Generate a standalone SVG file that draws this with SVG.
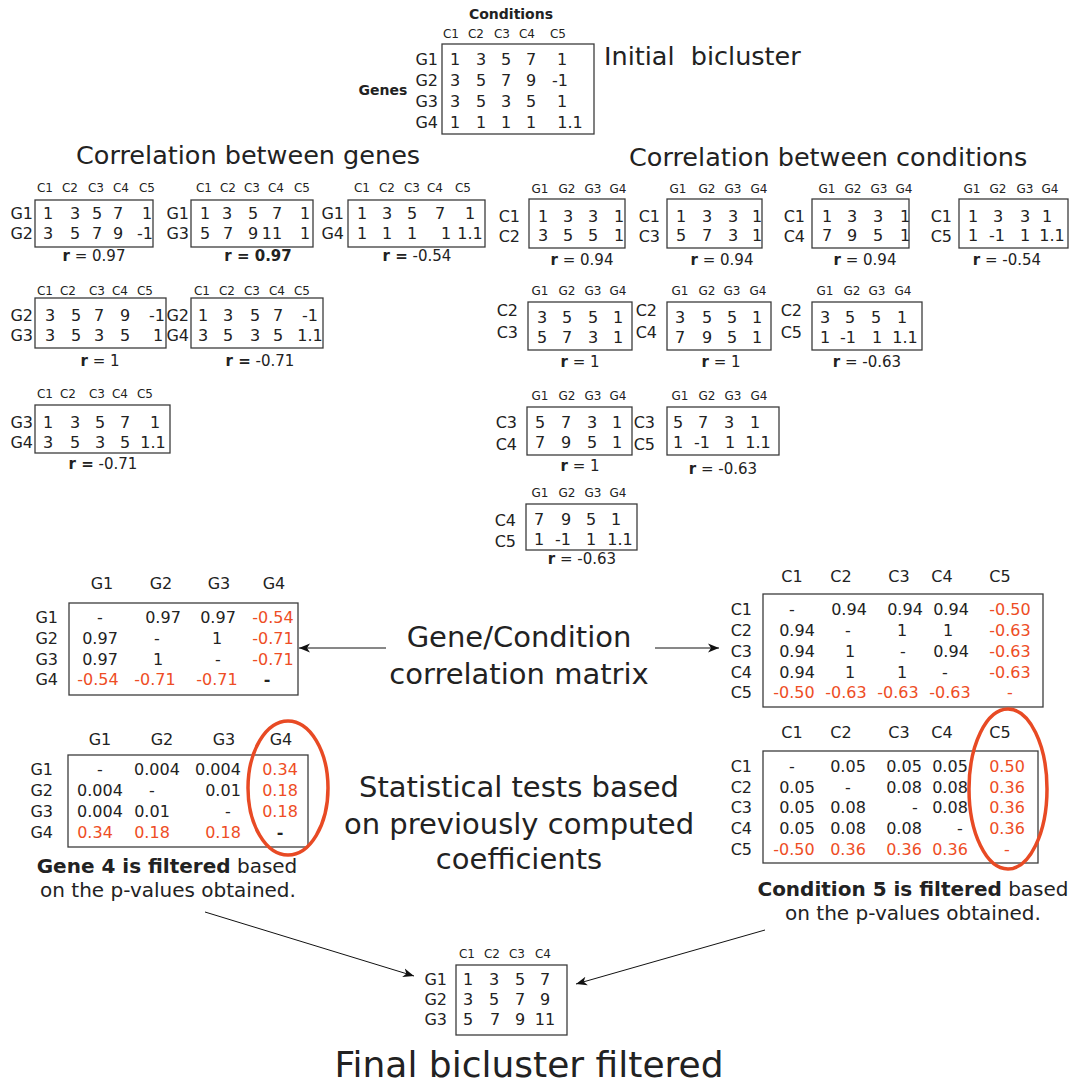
<svg xmlns="http://www.w3.org/2000/svg" width="1074" height="1086" viewBox="0 0 1074 1086">
<style>
text{font-family:"DejaVu Sans","Bitstream Vera Sans",sans-serif;fill:#222}
.h{font-size:12px;text-anchor:middle}
.v{font-size:16px;text-anchor:middle}
.l{font-size:16px;text-anchor:end}
.r{font-size:15px;text-anchor:middle}
.b{font-weight:bold}
.red{fill:#ee4d25}
.box{fill:none;stroke:#3c3c3c;stroke-width:1.3}
.big{font-size:25.5px}
.mid{font-size:29px;text-anchor:middle}
.note{font-size:20px;text-anchor:middle}
.ell{fill:none;stroke:#e84a24;stroke-width:3.5}
.conn{stroke:#111;stroke-width:1;fill:none;marker-end:url(#ah)}
</style>
<defs>
<marker id="ah" viewBox="-11 -5 12 10" refX="0" refY="0" markerWidth="12" markerHeight="10" markerUnits="userSpaceOnUse" orient="auto">
<path d="M0,0 L-11,-4.5 L-8,0 L-11,4.5 Z" fill="#111"/>
</marker>
</defs>
<rect width="1074" height="1086" fill="#fff"/>

<g id="initial">
<text x="511" y="19" class="b" style="font-size:14px;text-anchor:middle">Conditions</text>
<text x="383" y="95" class="b" style="font-size:14px;text-anchor:middle">Genes</text>
<text y="38" class="h"><tspan x="451">C1</tspan><tspan x="476">C2</tspan><tspan x="502">C3</tspan><tspan x="527">C4</tspan><tspan x="558">C5</tspan></text>
<rect class="box" x="442" y="44" width="152" height="90"/>
<text class="l" x="438" y="65">G1</text><text class="l" x="438" y="86">G2</text><text class="l" x="438" y="107">G3</text><text class="l" x="438" y="128">G4</text>
<text class="v" y="65"><tspan x="455">1</tspan><tspan x="481">3</tspan><tspan x="506">5</tspan><tspan x="531">7</tspan><tspan x="562">1</tspan></text>
<text class="v" y="86"><tspan x="455">3</tspan><tspan x="481">5</tspan><tspan x="506">7</tspan><tspan x="531">9</tspan><tspan x="560">-1</tspan></text>
<text class="v" y="107"><tspan x="455">3</tspan><tspan x="481">5</tspan><tspan x="506">3</tspan><tspan x="531">5</tspan><tspan x="562">1</tspan></text>
<text class="v" y="128"><tspan x="455">1</tspan><tspan x="481">1</tspan><tspan x="506">1</tspan><tspan x="531">1</tspan><tspan x="570">1.1</tspan></text>
<text x="604" y="65" class="big" xml:space="preserve">Initial  bicluster</text>
</g>

<g id="titles">
<text x="76" y="164" class="big">Correlation between genes</text>
<text x="629" y="166" class="big">Correlation between conditions</text>
</g>

<g id="g12">
<text y="192" class="h"><tspan x="45">C1</tspan><tspan x="70">C2</tspan><tspan x="96">C3</tspan><tspan x="121">C4</tspan><tspan x="147">C5</tspan></text>
<rect class="box" x="35" y="200" width="118" height="47"/>
<text class="l" x="33" y="219">G1</text><text class="l" x="33" y="239">G2</text>
<text class="v" y="219"><tspan x="48">1</tspan><tspan x="75">3</tspan><tspan x="97">5</tspan><tspan x="118">7</tspan><tspan x="147">1</tspan></text>
<text class="v" y="239"><tspan x="48">3</tspan><tspan x="75">5</tspan><tspan x="97">7</tspan><tspan x="118">9</tspan><tspan x="145">-1</tspan></text>
<text class="r" x="94" y="261"><tspan class="b">r</tspan> = 0.97</text>
</g>
<g id="g13">
<text y="192" class="h"><tspan x="204">C1</tspan><tspan x="228">C2</tspan><tspan x="252">C3</tspan><tspan x="276">C4</tspan><tspan x="302">C5</tspan></text>
<rect class="box" x="191" y="200" width="122" height="47"/>
<text class="l" x="189" y="219">G1</text><text class="l" x="189" y="239">G3</text>
<text class="v" y="219"><tspan x="205">1</tspan><tspan x="227">3</tspan><tspan x="253">5</tspan><tspan x="277">7</tspan><tspan x="305">1</tspan></text>
<text class="v" y="239"><tspan x="205">5</tspan><tspan x="228">7</tspan><tspan x="253">9</tspan><tspan x="272">11</tspan><tspan x="305">1</tspan></text>
<text class="r b" x="258" y="261">r = 0.97</text>
</g>
<g id="g14">
<text y="192" class="h"><tspan x="362">C1</tspan><tspan x="387">C2</tspan><tspan x="412">C3</tspan><tspan x="435">C4</tspan><tspan x="463">C5</tspan></text>
<rect class="box" x="348" y="200" width="137" height="47"/>
<text class="l" x="344" y="219">G1</text><text class="l" x="344" y="239">G4</text>
<text class="v" y="219"><tspan x="362">1</tspan><tspan x="387">3</tspan><tspan x="412">5</tspan><tspan x="440">7</tspan><tspan x="470">1</tspan></text>
<text class="v" y="239"><tspan x="362">1</tspan><tspan x="387">1</tspan><tspan x="412">1</tspan><tspan x="446">1</tspan><tspan x="470">1.1</tspan></text>
<text class="r" x="417" y="261"><tspan class="b">r =</tspan> -0.54</text>
</g>
<g id="g23">
<text y="295" class="h"><tspan x="45">C1</tspan><tspan x="68">C2</tspan><tspan x="97">C3</tspan><tspan x="120">C4</tspan><tspan x="145">C5</tspan></text>
<rect class="box" x="35" y="298" width="131" height="50"/>
<text class="l" x="33" y="321">G2</text><text class="l" x="33" y="341">G3</text>
<text class="v" y="321"><tspan x="50">3</tspan><tspan x="76">5</tspan><tspan x="99">7</tspan><tspan x="125">9</tspan><tspan x="157">-1</tspan></text>
<text class="v" y="341"><tspan x="50">3</tspan><tspan x="76">5</tspan><tspan x="99">3</tspan><tspan x="125">5</tspan><tspan x="158">1</tspan></text>
<text class="r" x="100" y="366"><tspan class="b">r</tspan> = 1</text>
</g>
<g id="g24">
<text y="295" class="h"><tspan x="202">C1</tspan><tspan x="227">C2</tspan><tspan x="252">C3</tspan><tspan x="277">C4</tspan><tspan x="302">C5</tspan></text>
<rect class="box" x="191" y="298" width="132" height="50"/>
<text class="l" x="189" y="321">G2</text><text class="l" x="189" y="341">G4</text>
<text class="v" y="321"><tspan x="203">1</tspan><tspan x="228">3</tspan><tspan x="255">5</tspan><tspan x="278">7</tspan><tspan x="310">-1</tspan></text>
<text class="v" y="341"><tspan x="203">3</tspan><tspan x="228">5</tspan><tspan x="255">3</tspan><tspan x="278">5</tspan><tspan x="310">1.1</tspan></text>
<text class="r" x="260" y="366"><tspan class="b">r =</tspan> -0.71</text>
</g>
<g id="g34">
<text y="398" class="h"><tspan x="45">C1</tspan><tspan x="68">C2</tspan><tspan x="97">C3</tspan><tspan x="120">C4</tspan><tspan x="145">C5</tspan></text>
<rect class="box" x="35" y="405" width="135" height="48"/>
<text class="l" x="33" y="428">G3</text><text class="l" x="33" y="448">G4</text>
<text class="v" y="428"><tspan x="48">1</tspan><tspan x="75">3</tspan><tspan x="100">5</tspan><tspan x="125">7</tspan><tspan x="155">1</tspan></text>
<text class="v" y="448"><tspan x="48">3</tspan><tspan x="75">5</tspan><tspan x="100">3</tspan><tspan x="125">5</tspan><tspan x="153">1.1</tspan></text>
<text class="r" x="103" y="469"><tspan class="b">r =</tspan> -0.71</text>
</g>

<g id="c12">
<text y="193" class="h"><tspan x="540">G1</tspan><tspan x="567">G2</tspan><tspan x="593">G3</tspan><tspan x="618">G4</tspan></text>
<rect class="box" x="529" y="199" width="96" height="49"/>
<text class="l" x="520" y="222">C1</text><text class="l" x="520" y="242">C2</text>
<text class="v" y="222"><tspan x="543">1</tspan><tspan x="568">3</tspan><tspan x="593">3</tspan><tspan x="619">1</tspan></text>
<text class="v" y="241"><tspan x="543">3</tspan><tspan x="568">5</tspan><tspan x="593">5</tspan><tspan x="619">1</tspan></text>
<text class="r" x="582" y="265"><tspan class="b">r</tspan> = 0.94</text>
</g>
<g id="c13">
<text y="193" class="h"><tspan x="678">G1</tspan><tspan x="707">G2</tspan><tspan x="733">G3</tspan><tspan x="759">G4</tspan></text>
<rect class="box" x="667" y="199" width="95" height="49"/>
<text class="l" x="660" y="222">C1</text><text class="l" x="660" y="242">C3</text>
<text class="v" y="222"><tspan x="681">1</tspan><tspan x="707">3</tspan><tspan x="733">3</tspan><tspan x="757">1</tspan></text>
<text class="v" y="241"><tspan x="681">5</tspan><tspan x="707">7</tspan><tspan x="733">3</tspan><tspan x="757">1</tspan></text>
<text class="r" x="722" y="265"><tspan class="b">r</tspan> = 0.94</text>
</g>
<g id="c14">
<text y="193" class="h"><tspan x="827">G1</tspan><tspan x="853">G2</tspan><tspan x="879">G3</tspan><tspan x="904">G4</tspan></text>
<rect class="box" x="812" y="199" width="97" height="49"/>
<text class="l" x="805" y="222">C1</text><text class="l" x="805" y="242">C4</text>
<text class="v" y="222"><tspan x="827">1</tspan><tspan x="852">3</tspan><tspan x="878">3</tspan><tspan x="905">1</tspan></text>
<text class="v" y="241"><tspan x="827">7</tspan><tspan x="852">9</tspan><tspan x="878">5</tspan><tspan x="905">1</tspan></text>
<text class="r" x="865" y="265"><tspan class="b">r</tspan> = 0.94</text>
</g>
<g id="c15">
<text y="193" class="h"><tspan x="972">G1</tspan><tspan x="998">G2</tspan><tspan x="1025">G3</tspan><tspan x="1050">G4</tspan></text>
<rect class="box" x="959" y="199" width="109" height="49"/>
<text class="l" x="952" y="222">C1</text><text class="l" x="952" y="242">C5</text>
<text class="v" y="222"><tspan x="973">1</tspan><tspan x="998">3</tspan><tspan x="1025">3</tspan><tspan x="1047">1</tspan></text>
<text class="v" y="241"><tspan x="973">1</tspan><tspan x="997">-1</tspan><tspan x="1025">1</tspan><tspan x="1052">1.1</tspan></text>
<text class="r" x="1007" y="265"><tspan class="b">r</tspan> = -0.54</text>
</g>
<g id="c23">
<text y="295" class="h"><tspan x="540">G1</tspan><tspan x="567">G2</tspan><tspan x="593">G3</tspan><tspan x="618">G4</tspan></text>
<rect class="box" x="528" y="302" width="104" height="48"/>
<text class="l" x="518" y="316">C2</text><text class="l" x="518" y="338">C3</text>
<text class="v" y="323"><tspan x="542">3</tspan><tspan x="567">5</tspan><tspan x="593">5</tspan><tspan x="618">1</tspan></text>
<text class="v" y="343"><tspan x="542">5</tspan><tspan x="567">7</tspan><tspan x="593">3</tspan><tspan x="618">1</tspan></text>
<text class="r" x="580" y="367"><tspan class="b">r</tspan> = 1</text>
</g>
<g id="c24">
<text y="295" class="h"><tspan x="680">G1</tspan><tspan x="707">G2</tspan><tspan x="732">G3</tspan><tspan x="758">G4</tspan></text>
<rect class="box" x="667" y="302" width="104" height="48"/>
<text class="l" x="657" y="316">C2</text><text class="l" x="657" y="338">C4</text>
<text class="v" y="323"><tspan x="680">3</tspan><tspan x="707">5</tspan><tspan x="732">5</tspan><tspan x="757">1</tspan></text>
<text class="v" y="343"><tspan x="680">7</tspan><tspan x="707">9</tspan><tspan x="732">5</tspan><tspan x="757">1</tspan></text>
<text class="r" x="721" y="367"><tspan class="b">r</tspan> = 1</text>
</g>
<g id="c25">
<text y="295" class="h"><tspan x="825">G1</tspan><tspan x="852">G2</tspan><tspan x="877">G3</tspan><tspan x="903">G4</tspan></text>
<rect class="box" x="812" y="302" width="110" height="48"/>
<text class="l" x="802" y="316">C2</text><text class="l" x="802" y="338">C5</text>
<text class="v" y="323"><tspan x="825">3</tspan><tspan x="850">5</tspan><tspan x="876">5</tspan><tspan x="902">1</tspan></text>
<text class="v" y="343"><tspan x="825">1</tspan><tspan x="848">-1</tspan><tspan x="877">1</tspan><tspan x="905">1.1</tspan></text>
<text class="r" x="867" y="367"><tspan class="b">r</tspan> = -0.63</text>
</g>
<g id="c34">
<text y="400" class="h"><tspan x="540">G1</tspan><tspan x="567">G2</tspan><tspan x="593">G3</tspan><tspan x="618">G4</tspan></text>
<rect class="box" x="527" y="407" width="105" height="48"/>
<text class="l" x="517" y="428">C3</text><text class="l" x="517" y="450">C4</text>
<text class="v" y="428"><tspan x="540">5</tspan><tspan x="566">7</tspan><tspan x="592">3</tspan><tspan x="617">1</tspan></text>
<text class="v" y="448"><tspan x="540">7</tspan><tspan x="566">9</tspan><tspan x="592">5</tspan><tspan x="617">1</tspan></text>
<text class="r" x="580" y="471"><tspan class="b">r</tspan> = 1</text>
</g>
<g id="c35">
<text y="400" class="h"><tspan x="680">G1</tspan><tspan x="707">G2</tspan><tspan x="733">G3</tspan><tspan x="759">G4</tspan></text>
<rect class="box" x="667" y="407" width="112" height="48"/>
<text class="l" x="655" y="428">C3</text><text class="l" x="655" y="450">C5</text>
<text class="v" y="428"><tspan x="678">5</tspan><tspan x="703">7</tspan><tspan x="729">3</tspan><tspan x="755">1</tspan></text>
<text class="v" y="448"><tspan x="678">1</tspan><tspan x="702">-1</tspan><tspan x="730">1</tspan><tspan x="758">1.1</tspan></text>
<text class="r" x="723" y="474"><tspan class="b">r</tspan> = -0.63</text>
</g>
<g id="c45">
<text y="497" class="h"><tspan x="540">G1</tspan><tspan x="567">G2</tspan><tspan x="593">G3</tspan><tspan x="618">G4</tspan></text>
<rect class="box" x="526" y="504" width="111" height="46"/>
<text class="l" x="516" y="526">C4</text><text class="l" x="516" y="547">C5</text>
<text class="v" y="525"><tspan x="539">7</tspan><tspan x="566">9</tspan><tspan x="591">5</tspan><tspan x="616">1</tspan></text>
<text class="v" y="545"><tspan x="539">1</tspan><tspan x="563">-1</tspan><tspan x="591">1</tspan><tspan x="620">1.1</tspan></text>
<text class="r" x="582" y="564"><tspan class="b">r</tspan> = -0.63</text>
</g>

<g id="gene-corr">
<text y="589" class="v"><tspan x="102">G1</tspan><tspan x="161">G2</tspan><tspan x="219">G3</tspan><tspan x="274">G4</tspan></text>
<rect class="box" x="69" y="603" width="229" height="92"/>
<text class="l" x="58" y="623">G1</text><text class="l" x="58" y="644">G2</text><text class="l" x="58" y="665">G3</text><text class="l" x="58" y="685">G4</text>
<text class="v" y="623"><tspan x="100">-</tspan><tspan x="163">0.97</tspan><tspan x="218">0.97</tspan><tspan x="273" class="red">-0.54</tspan></text>
<text class="v" y="644"><tspan x="100">0.97</tspan><tspan x="157">-</tspan><tspan x="217">1</tspan><tspan x="273" class="red">-0.71</tspan></text>
<text class="v" y="665"><tspan x="100">0.97</tspan><tspan x="158">1</tspan><tspan x="218">-</tspan><tspan x="273" class="red">-0.71</tspan></text>
<text class="v" y="685"><tspan x="98" class="red">-0.54</tspan><tspan x="155" class="red">-0.71</tspan><tspan x="217" class="red">-0.71</tspan><tspan x="267" class="b">-</tspan></text>
</g>

<g id="cond-corr">
<text y="582" class="v"><tspan x="792">C1</tspan><tspan x="841">C2</tspan><tspan x="899">C3</tspan><tspan x="942">C4</tspan><tspan x="1000">C5</tspan></text>
<rect class="box" x="763" y="594" width="280" height="113"/>
<text class="l" x="752" y="615">C1</text><text class="l" x="752" y="636">C2</text><text class="l" x="752" y="657">C3</text><text class="l" x="752" y="678">C4</text><text class="l" x="752" y="698">C5</text>
<text class="v" y="615"><tspan x="792">-</tspan><tspan x="849">0.94</tspan><tspan x="905">0.94</tspan><tspan x="951">0.94</tspan><tspan x="1010" class="red">-0.50</tspan></text>
<text class="v" y="636"><tspan x="797">0.94</tspan><tspan x="848">-</tspan><tspan x="902">1</tspan><tspan x="948">1</tspan><tspan x="1010" class="red">-0.63</tspan></text>
<text class="v" y="657"><tspan x="797">0.94</tspan><tspan x="850">1</tspan><tspan x="903">-</tspan><tspan x="951">0.94</tspan><tspan x="1010" class="red">-0.63</tspan></text>
<text class="v" y="678"><tspan x="797">0.94</tspan><tspan x="850">1</tspan><tspan x="902">1</tspan><tspan x="945">-</tspan><tspan x="1010" class="red">-0.63</tspan></text>
<text class="v red" y="698"><tspan x="794">-0.50</tspan><tspan x="846">-0.63</tspan><tspan x="898">-0.63</tspan><tspan x="950">-0.63</tspan><tspan x="1010">-</tspan></text>
</g>

<g id="matrix-label">
<text class="mid" x="519" y="647">Gene/Condition</text>
<text class="mid" x="519" y="684">correlation matrix</text>
</g>

<g id="gene-pval">
<text y="745" class="v"><tspan x="100">G1</tspan><tspan x="162">G2</tspan><tspan x="224">G3</tspan><tspan x="281">G4</tspan></text>
<rect class="box" x="68" y="755" width="240" height="92"/>
<text class="l" x="53" y="775">G1</text><text class="l" x="53" y="796">G2</text><text class="l" x="53" y="817">G3</text><text class="l" x="53" y="838">G4</text>
<text class="v" y="775"><tspan x="100">-</tspan><tspan x="157">0.004</tspan><tspan x="218">0.004</tspan><tspan x="280" class="red">0.34</tspan></text>
<text class="v" y="796"><tspan x="100">0.004</tspan><tspan x="152">-</tspan><tspan x="223">0.01</tspan><tspan x="280" class="red">0.18</tspan></text>
<text class="v" y="817"><tspan x="100">0.004</tspan><tspan x="152">0.01</tspan><tspan x="228">-</tspan><tspan x="280" class="red">0.18</tspan></text>
<text class="v" y="838"><tspan x="95" class="red">0.34</tspan><tspan x="152" class="red">0.18</tspan><tspan x="223" class="red">0.18</tspan><tspan x="280" class="b">-</tspan></text>
<ellipse class="ell" cx="288" cy="788" rx="40" ry="67"/>
<text class="note" x="167" y="873"><tspan class="b">Gene 4 is filtered</tspan> based</text>
<text class="note" x="168" y="897">on the p-values obtained.</text>
</g>

<g id="cond-pval">
<text y="738" class="v"><tspan x="792">C1</tspan><tspan x="841">C2</tspan><tspan x="899">C3</tspan><tspan x="942">C4</tspan><tspan x="1000">C5</tspan></text>
<rect class="box" x="763" y="751" width="275" height="112"/>
<text class="l" x="752" y="772">C1</text><text class="l" x="752" y="793">C2</text><text class="l" x="752" y="813">C3</text><text class="l" x="752" y="834">C4</text><text class="l" x="752" y="855">C5</text>
<text class="v" y="772"><tspan x="792">-</tspan><tspan x="848">0.05</tspan><tspan x="904">0.05</tspan><tspan x="950">0.05</tspan><tspan x="1007" class="red">0.50</tspan></text>
<text class="v" y="793"><tspan x="797">0.05</tspan><tspan x="848">-</tspan><tspan x="904">0.08</tspan><tspan x="950">0.08</tspan><tspan x="1007" class="red">0.36</tspan></text>
<text class="v" y="813"><tspan x="797">0.05</tspan><tspan x="848">0.08</tspan><tspan x="915">-</tspan><tspan x="950">0.08</tspan><tspan x="1007" class="red">0.36</tspan></text>
<text class="v" y="834"><tspan x="797">0.05</tspan><tspan x="848">0.08</tspan><tspan x="904">0.08</tspan><tspan x="960">-</tspan><tspan x="1007" class="red">0.36</tspan></text>
<text class="v red" y="855"><tspan x="794">-0.50</tspan><tspan x="848">0.36</tspan><tspan x="904">0.36</tspan><tspan x="950">0.36</tspan><tspan x="1007">-</tspan></text>
<ellipse class="ell" cx="1008" cy="789" rx="39" ry="80"/>
<text class="note" x="913" y="896"><tspan class="b">Condition 5 is filtered</tspan> based</text>
<text class="note" x="913" y="920">on the p-values obtained.</text>
</g>

<g id="stat-label">
<text class="mid" x="519" y="797">Statistical tests based</text>
<text class="mid" x="519" y="834">on previously computed</text>
<text class="mid" x="519" y="869">coefficients</text>
</g>

<g id="final">
<text y="958" class="h"><tspan x="467">C1</tspan><tspan x="492">C2</tspan><tspan x="517">C3</tspan><tspan x="543">C4</tspan></text>
<rect class="box" x="456" y="965" width="111" height="70"/>
<text class="l" x="447" y="985">G1</text><text class="l" x="447" y="1005">G2</text><text class="l" x="447" y="1025">G3</text>
<text class="v" y="985"><tspan x="468">1</tspan><tspan x="494">3</tspan><tspan x="520">5</tspan><tspan x="545">7</tspan></text>
<text class="v" y="1005"><tspan x="468">3</tspan><tspan x="494">5</tspan><tspan x="520">7</tspan><tspan x="545">9</tspan></text>
<text class="v" y="1025"><tspan x="468">5</tspan><tspan x="495">7</tspan><tspan x="520">9</tspan><tspan x="545">11</tspan></text>
<text x="529" y="1077" style="font-size:36px;text-anchor:middle">Final bicluster filtered</text>
</g>

<g id="connectors">
<line class="conn" x1="386" y1="648" x2="299" y2="648"/>
<line class="conn" x1="655" y1="648" x2="719" y2="648"/>
<line class="conn" x1="205" y1="912" x2="414" y2="976"/>
<line class="conn" x1="765" y1="930" x2="576" y2="984"/>
</g>
</svg>
